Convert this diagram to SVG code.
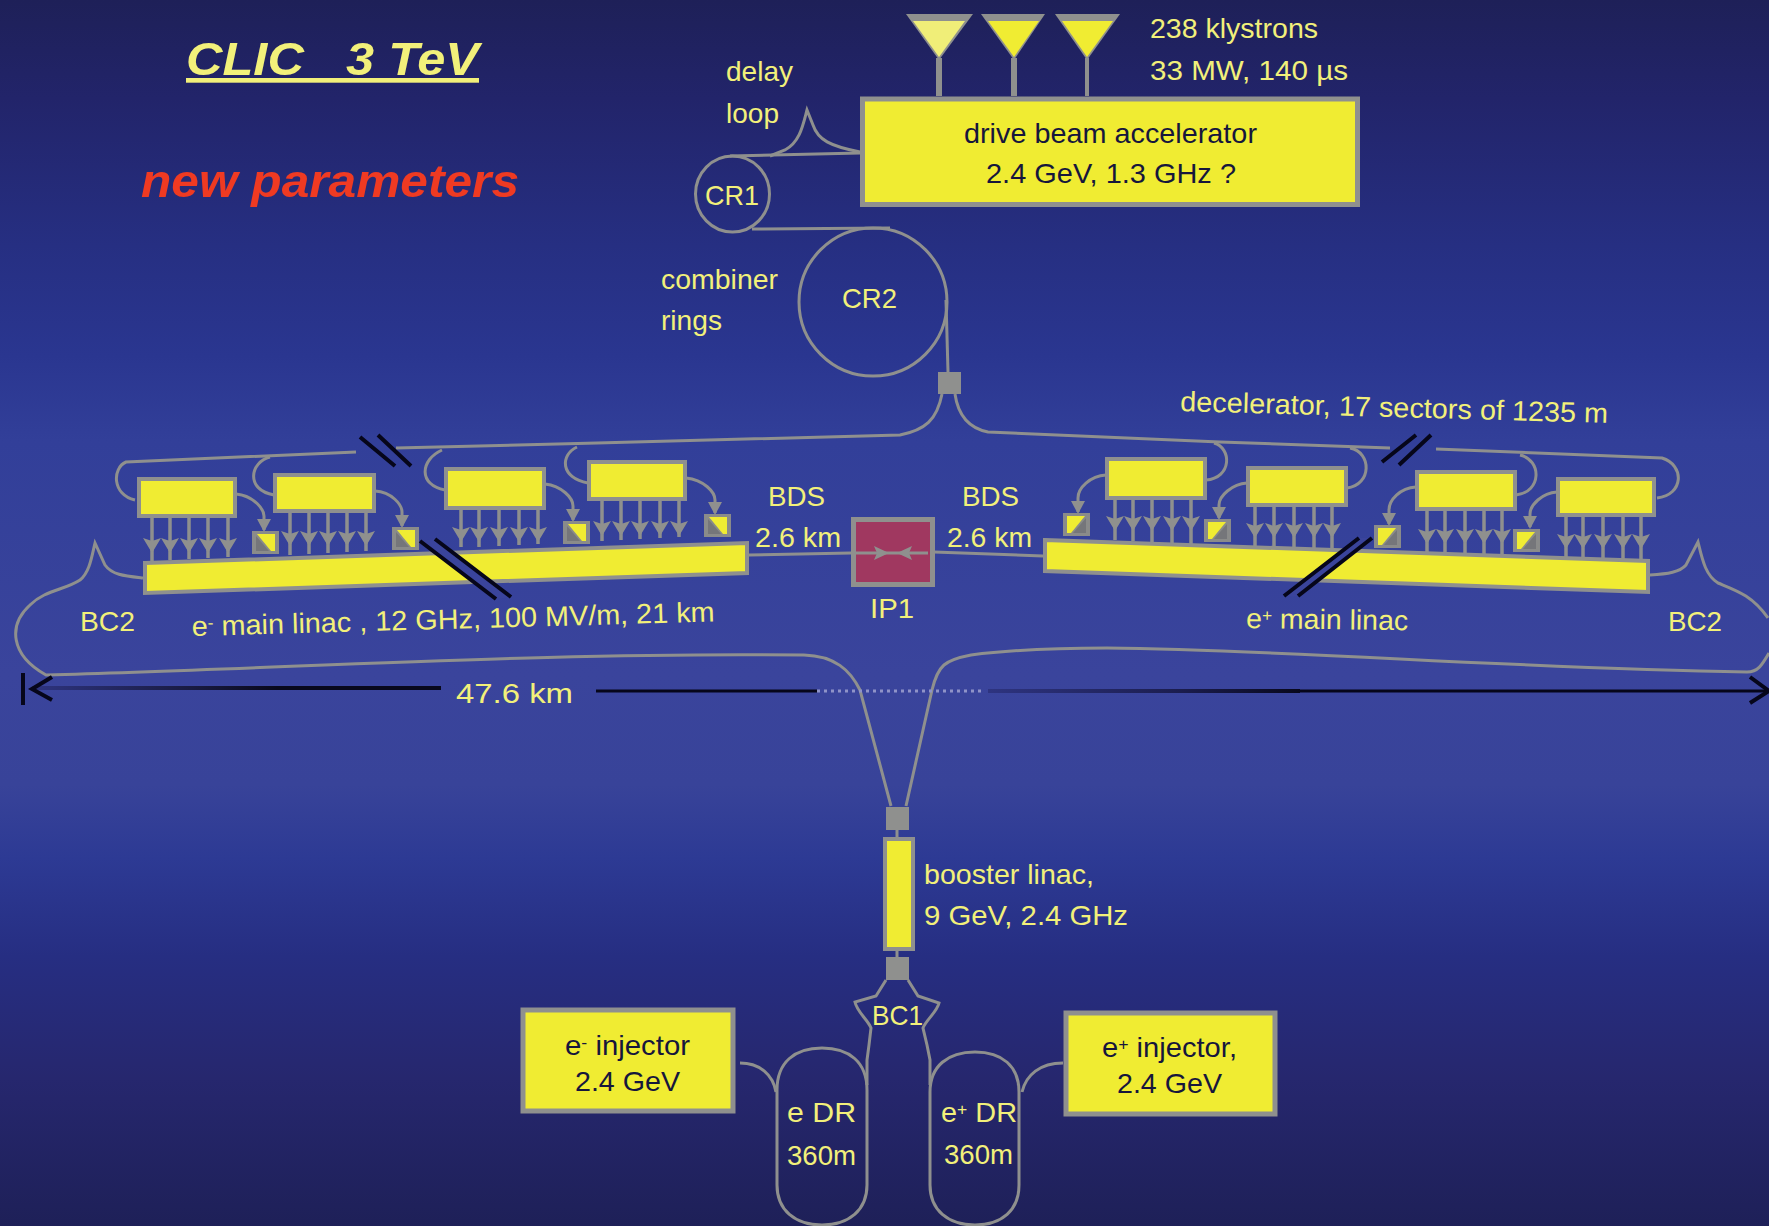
<svg xmlns="http://www.w3.org/2000/svg" xmlns:xlink="http://www.w3.org/1999/xlink" width="1769" height="1226" viewBox="0 0 1769 1226">
<defs>
<linearGradient id="bg" x1="0" y1="0" x2="0" y2="1">
<stop offset="0" stop-color="#1e2058"/><stop offset="0.08" stop-color="#22246a"/><stop offset="0.2" stop-color="#262f82"/><stop offset="0.29" stop-color="#2a3690"/><stop offset="0.36" stop-color="#323f99"/><stop offset="0.55" stop-color="#3a449c"/><stop offset="0.64" stop-color="#384399"/><stop offset="0.7" stop-color="#2d3a94"/><stop offset="0.78" stop-color="#262e82"/><stop offset="0.88" stop-color="#26276e"/><stop offset="1" stop-color="#1e2058"/>
</linearGradient>
<linearGradient id="dimL" gradientUnits="userSpaceOnUse" x1="32" y1="0" x2="441" y2="0"><stop offset="0" stop-color="#2e3480"/><stop offset="0.4" stop-color="#181a40"/><stop offset="0.6" stop-color="#08081c"/></linearGradient>
<linearGradient id="dimR" gradientUnits="userSpaceOnUse" x1="988" y1="0" x2="1300" y2="0"><stop offset="0" stop-color="#2e3480"/><stop offset="0.6" stop-color="#1c1e50"/><stop offset="1" stop-color="#08081c"/></linearGradient>
<marker id="ah" markerUnits="userSpaceOnUse" markerWidth="20" markerHeight="20" refX="8" refY="10" orient="auto" viewBox="0 0 20 20"><path d="M0,1 L15,10 L0,19 L3,10 Z" fill="#8f908e"/></marker>
<g id="sqA"><rect width="27" height="23" fill="#8a8b8a"/><polygon points="5,3 23,3 23,20 19,20" fill="#f0ec32"/><polygon points="4,5 4,20 17,20" fill="#75767a"/></g>
<g id="sqB"><rect width="27" height="23" fill="#8a8b8a"/><polygon points="4,3 22,3 8,20 4,20" fill="#f0ec32"/><polygon points="23,5 23,20 10,20" fill="#75767a"/></g>
</defs>
<style>
text{font-family:"Liberation Sans",Arial,sans-serif;font-size:28px;fill:#f2f07a}
.d{fill:#16163c}
.t{fill:none;stroke:#8f908e;stroke-width:3}
.a{fill:none;stroke:#8f908e;stroke-width:3.500;marker-mid:url(#ah)}
.b{fill:#f0ec32;stroke:#8f908e;stroke-width:4}
.k{fill:none;stroke:#06061a;stroke-width:4}
.j{fill:#8f908e}
.s{font-size:17px}
</style>
<rect width="1769" height="1226" fill="url(#bg)"/>

<g id="connectors">
<path class="t" d="M860,152 C830,146 818,140 813,125 L807,110 C803,125 800,142 785,150 L770,156"/>
<path class="t" d="M860,153 L730,156"/>
<path class="t" d="M752,229 L890,228"/>
<path class="t" d="M946,300 L948,372"/>
<path class="t" d="M942,394 C937,420 925,430 900,435 L597,443 L396,448"/>
<path class="t" d="M356,452 L126,462 C112,468 112,495 135,500"/>
<path class="t" d="M270,457 C250,462 245,490 274,495"/>
<path class="t" d="M442,450 C420,460 418,485 445,490"/>
<path class="t" d="M577,447 C560,455 560,478 588,483"/>
<path class="t" d="M236,494 C255,496 264,510 264,516 L264,530"/>
<path class="t" d="M375,491 C392,492 402,505 402,512 L402,526"/>
<path class="t" d="M545,484 C562,486 573,498 573,506 L573,520"/>
<path class="t" d="M686,478 C704,480 715,492 715,500 L715,513"/>
<path class="t" d="M955,394 C958,415 968,428 988,432 L1220,442 L1390,448"/>
<path class="t" d="M1436,449 L1662,458 C1685,465 1684,495 1657,498"/>
<path class="t" d="M1214,443 C1232,448 1232,478 1206,480"/>
<path class="t" d="M1350,448 C1372,452 1372,485 1347,488"/>
<path class="t" d="M1520,455 C1542,460 1542,492 1516,495"/>
<path class="t" d="M1106,475 C1090,476 1078,488 1078,498 L1078,512"/>
<path class="t" d="M1247,483 C1232,484 1219,496 1219,505 L1219,518"/>
<path class="t" d="M1416,487 C1400,488 1389,500 1389,510 L1389,524"/>
<path class="t" d="M1557,492 C1542,493 1530,505 1530,514 L1530,527"/>
<polygon class="j" points="257,519 271,519 264,532"/><polygon class="j" points="395,515 409,515 402,528"/><polygon class="j" points="566,509 580,509 573,522"/><polygon class="j" points="708,502 722,502 715,515"/>
<polygon class="j" points="1071,501 1085,501 1078,514"/><polygon class="j" points="1212,507 1226,507 1219,520"/><polygon class="j" points="1382,513 1396,513 1389,526"/><polygon class="j" points="1523,516 1537,516 1530,529"/>
<path class="a" d="M152,517 L152,546 L152,561"/><path class="a" d="M170,517 L170,546 L170,560"/><path class="a" d="M189,517 L189,546 L189,559"/><path class="a" d="M208,517 L208,546 L208,558"/><path class="a" d="M228,517 L228,546 L228,557"/>
<path class="a" d="M290,512 L290,539 L290,555"/><path class="a" d="M309,512 L309,539 L309,554"/><path class="a" d="M328,512 L328,539 L328,553"/><path class="a" d="M347,512 L347,539 L347,552"/><path class="a" d="M366,512 L366,539 L366,551"/>
<path class="a" d="M461,509 L461,535 L461,547"/><path class="a" d="M479,509 L479,535 L479,547"/><path class="a" d="M499,509 L499,535 L499,546"/><path class="a" d="M519,509 L519,535 L519,545"/><path class="a" d="M538,509 L538,535 L538,544"/>
<path class="a" d="M602,500 L602,529 L602,541"/><path class="a" d="M621,500 L621,529 L621,540"/><path class="a" d="M640,500 L640,529 L640,539"/><path class="a" d="M660,500 L660,529 L660,538"/><path class="a" d="M679,500 L679,529 L679,537"/>
<path class="a" d="M1115,499 L1115,524 L1115,540"/><path class="a" d="M1133,499 L1133,524 L1133,541"/><path class="a" d="M1152,499 L1152,524 L1152,542"/><path class="a" d="M1172,499 L1172,524 L1172,543"/><path class="a" d="M1191,499 L1191,524 L1191,544"/>
<path class="a" d="M1255,505 L1255,531 L1255,546"/><path class="a" d="M1274,505 L1274,531 L1274,547"/><path class="a" d="M1294,505 L1294,531 L1294,548"/><path class="a" d="M1314,505 L1314,531 L1314,549"/><path class="a" d="M1332,505 L1332,531 L1332,550"/>
<path class="a" d="M1427,510 L1427,537 L1427,552"/><path class="a" d="M1445,510 L1445,537 L1445,553"/><path class="a" d="M1465,510 L1465,537 L1465,554"/><path class="a" d="M1484,510 L1484,537 L1484,555"/><path class="a" d="M1502,510 L1502,537 L1502,556"/>
<path class="a" d="M1566,515 L1566,542 L1566,557"/><path class="a" d="M1583,515 L1583,542 L1583,558"/><path class="a" d="M1603,515 L1603,542 L1603,559"/><path class="a" d="M1623,515 L1623,542 L1623,560"/><path class="a" d="M1641,515 L1641,542 L1641,561"/>
<path class="t" d="M749,555 L851,553"/>
<path class="t" d="M934,552 L1043,556"/>
<path class="t" d="M143,578 C125,576 112,575 105,565 L95,543 C92,555 90,572 80,580 C65,590 45,590 30,605 C8,625 10,655 46,675 C300,668 550,652 804,655 C835,656 850,670 860,690 L891,806"/>
<path class="t" d="M1650,575 C1668,574 1680,572 1686,565 L1698,542 C1702,558 1705,575 1718,583 C1735,590 1752,595 1768,618"/>
<path class="t" d="M1769,653 C1762,665 1758,672 1747,672 C1500,668 1300,650 1107,648 C1060,648 1010,650 971,655 C945,660 938,665 932,690 L906,806"/>
<path class="t" d="M897,830 L897,838"/><path class="t" d="M897,950 L897,958"/>
<path class="t" d="M886,980 L876,996 L855,1002 C857,1012 868,1020 871,1028 L869,1045 L867,1060 L867,1085"/>
<path class="t" d="M908,980 L918,996 L939,1003 C937,1012 926,1020 923,1028 L927,1045 L930,1060 L930,1085"/>
<path class="t" d="M740,1063 C760,1063 773,1075 776,1092"/>
<path class="t" d="M1063,1063 C1040,1063 1026,1075 1022,1092"/>
<path d="M32,688 L441,688" fill="none" stroke="url(#dimL)" stroke-width="4"/>
<path d="M596,691 L817,691" fill="none" stroke="#06061a" stroke-width="3"/>
<path d="M817,691 L985,691" fill="none" stroke="#8f93c8" stroke-width="3" stroke-dasharray="3 4"/>
<path d="M988,691 L1300,691" fill="none" stroke="url(#dimR)" stroke-width="4"/>
<path d="M1300,691 L1769,691" fill="none" stroke="#06061a" stroke-width="3"/>
<path class="k" d="M23,673 L23,705"/>
<path class="k" d="M52,677 L32,689 L52,700"/>
<path class="k" d="M1750,677 L1769,691 L1750,703"/>
</g>

<g id="title"><text x="186" y="75" font-weight="bold" font-style="italic" text-decoration="underline" style="font-size:47px;white-space:pre" textLength="293" lengthAdjust="spacingAndGlyphs" xml:space="preserve">CLIC   3 TeV</text></g>
<g id="subtitle"><text x="141" y="197" font-weight="bold" font-style="italic" style="font-size:47px;fill:#ef3a22" textLength="378" lengthAdjust="spacingAndGlyphs">new parameters</text></g>

<g id="klystrons">
<line x1="939" y1="58" x2="939" y2="96" stroke="#8f908e" stroke-width="6"/>
<line x1="1014" y1="58" x2="1014" y2="96" stroke="#8f908e" stroke-width="6"/>
<line x1="1087" y1="58" x2="1087" y2="96" stroke="#8f908e" stroke-width="4"/>
<polygon points="906,14 973,14 939,60" fill="#8f908e"/><polygon points="913,21 965,21 939,57" fill="#f0ee78"/>
<polygon points="981,14 1045,14 1014,60" fill="#8f908e"/><polygon points="988,21 1039,21 1014,57" fill="#f0ec32"/>
<polygon points="1055,14 1120,14 1087,60" fill="#8f908e"/><polygon points="1062,21 1113,21 1087,57" fill="#f0ec32"/>
<text x="1150" y="38" textLength="168" lengthAdjust="spacingAndGlyphs">238 klystrons</text>
<text x="1150" y="80" textLength="198" lengthAdjust="spacingAndGlyphs">33 MW, 140 µs</text>
</g>
<g id="drive-beam-accelerator">
<rect x="862.500" y="99" width="495" height="105.500" fill="#f0ec32" stroke="#8f908e" stroke-width="5"/>
<text class="d" x="964" y="143" textLength="293" lengthAdjust="spacingAndGlyphs">drive beam accelerator</text>
<text class="d" x="986" y="183" textLength="250" lengthAdjust="spacingAndGlyphs">2.4 GeV, 1.3 GHz ?</text>
</g>
<g id="delay-loop-label"><text x="726" y="81" textLength="67" lengthAdjust="spacingAndGlyphs">delay</text><text x="726" y="123" textLength="53" lengthAdjust="spacingAndGlyphs">loop</text></g>
<g id="cr1"><ellipse class="t" cx="732.500" cy="194" rx="37" ry="38"/><text x="705" y="205" textLength="54" lengthAdjust="spacingAndGlyphs">CR1</text></g>
<g id="cr2"><ellipse class="t" cx="873" cy="302" rx="74" ry="74"/><text x="842" y="308" textLength="55" lengthAdjust="spacingAndGlyphs">CR2</text></g>
<g id="combiner-label"><text x="661" y="289" textLength="117" lengthAdjust="spacingAndGlyphs">combiner</text><text x="661" y="330" textLength="61" lengthAdjust="spacingAndGlyphs">rings</text></g>
<g id="junction-top"><rect class="j" x="938" y="372" width="23" height="22"/></g>
<g id="decelerator-label"><text x="1180" y="411" transform="rotate(1.6 1180 411)" textLength="428" lengthAdjust="spacingAndGlyphs">decelerator, 17 sectors of 1235 m</text></g>

<g id="left-decelerators">
<rect class="b" x="139" y="479" width="96" height="37"/>
<rect class="b" x="275" y="475" width="99" height="36"/>
<rect class="b" x="446" y="469" width="98" height="39"/>
<rect class="b" x="589" y="462" width="96" height="37"/>
</g>
<g id="left-squares">
<use href="#sqA" xlink:href="#sqA" x="252" y="531"/>
<use href="#sqA" xlink:href="#sqA" x="392" y="527"/>
<use href="#sqA" xlink:href="#sqA" x="563" y="521"/>
<use href="#sqA" xlink:href="#sqA" x="704" y="514"/>
</g>
<g id="left-linac"><polygon class="b" points="145,563 747,543 747,573 145,593"/>
<text x="192" y="636" transform="rotate(-1.6 192 636)" textLength="523" lengthAdjust="spacingAndGlyphs">e<tspan class="s" dy="-7">-</tspan><tspan dy="7"> main linac , 12 GHz, 100 MV/m, 21 km</tspan></text></g>
<g id="left-breaks">
<polygon points="420,541 435,539 511,597 496,599" fill="#3a449c"/>
<path class="k" d="M360,437 L395,466 M378,435 L411,466 M420,541 L496,599 M435,539 L511,597"/>
</g>

<g id="right-decelerators">
<rect class="b" x="1107" y="459" width="98" height="39"/>
<rect class="b" x="1248" y="468" width="98" height="37"/>
<rect class="b" x="1417" y="472" width="98" height="37"/>
<rect class="b" x="1558" y="479" width="96" height="36"/>
</g>
<g id="right-squares">
<use href="#sqB" xlink:href="#sqB" x="1063" y="513"/>
<use href="#sqB" xlink:href="#sqB" x="1204" y="519"/>
<use href="#sqB" xlink:href="#sqB" x="1374" y="525"/>
<use href="#sqB" xlink:href="#sqB" x="1513" y="529"/>
</g>
<g id="right-linac"><polygon class="b" points="1045,540 1648,561 1648,592 1045,571"/>
<text x="1246" y="628" transform="rotate(0.8 1246 628)" textLength="162" lengthAdjust="spacingAndGlyphs">e<tspan class="s" dy="-7">+</tspan><tspan dy="7"> main linac</tspan></text></g>
<g id="right-breaks">
<polygon points="1284,596 1298,596 1372,538 1359,538" fill="#3a449c"/>
<path class="k" d="M1382,462 L1416,435 M1399,465 L1431,435 M1284,596 L1359,538 M1298,596 L1372,538"/>
</g>

<g id="ip1">
<rect x="853.500" y="519.500" width="79" height="65" fill="#a03860" stroke="#8f908e" stroke-width="5"/>
<path d="M856,553 L928,553" stroke="#8f908e" stroke-width="3" fill="none"/>
<polygon class="j" points="874,546 889,553 874,560 877,553"/><polygon class="j" points="912,546 897,553 912,560 909,553"/>
<text x="870" y="618" textLength="44" lengthAdjust="spacingAndGlyphs">IP1</text>
</g>
<g id="bds-left"><text x="768" y="506" textLength="57" lengthAdjust="spacingAndGlyphs">BDS</text><text x="755" y="547" textLength="86" lengthAdjust="spacingAndGlyphs">2.6 km</text></g>
<g id="bds-right"><text x="962" y="506" textLength="57" lengthAdjust="spacingAndGlyphs">BDS</text><text x="947" y="547" textLength="85" lengthAdjust="spacingAndGlyphs">2.6 km</text></g>
<g id="bc2-left"><text x="80" y="631" textLength="55" lengthAdjust="spacingAndGlyphs">BC2</text></g>
<g id="bc2-right"><text x="1668" y="631" textLength="54" lengthAdjust="spacingAndGlyphs">BC2</text></g>
<g id="length-label"><text x="456" y="703" textLength="117" lengthAdjust="spacingAndGlyphs">47.6 km</text></g>

<g id="junction-mid"><rect class="j" x="886" y="807" width="23" height="23"/></g>
<g id="booster-linac">
<rect x="885" y="839" width="28" height="110" fill="#f0ec32" stroke="#8f908e" stroke-width="4"/>
<text x="924" y="884" textLength="170" lengthAdjust="spacingAndGlyphs">booster linac,</text>
<text x="924" y="925" textLength="204" lengthAdjust="spacingAndGlyphs">9 GeV, 2.4 GHz</text>
</g>
<g id="junction-low"><rect class="j" x="886" y="957" width="23" height="23"/></g>
<g id="bc1"><text x="872" y="1025" textLength="51" lengthAdjust="spacingAndGlyphs">BC1</text></g>
<g id="e-injector">
<rect x="523" y="1010" width="210" height="101" fill="#f0ec32" stroke="#8f908e" stroke-width="5"/>
<text class="d" x="565" y="1055" textLength="125" lengthAdjust="spacingAndGlyphs">e<tspan class="s" dy="-7">-</tspan><tspan dy="7"> injector</tspan></text>
<text class="d" x="575" y="1091" textLength="105" lengthAdjust="spacingAndGlyphs">2.4 GeV</text>
</g>
<g id="p-injector">
<rect x="1066" y="1013" width="209" height="101" fill="#f0ec32" stroke="#8f908e" stroke-width="5"/>
<text class="d" x="1102" y="1057" textLength="135" lengthAdjust="spacingAndGlyphs">e<tspan class="s" dy="-7">+</tspan><tspan dy="7"> injector,</tspan></text>
<text class="d" x="1117" y="1093" textLength="105" lengthAdjust="spacingAndGlyphs">2.4 GeV</text>
</g>
<g id="e-dr">
<path class="t" d="M777,1090 C777,1062 795,1048 822,1048 C849,1048 867,1062 867,1090 L867,1185 C867,1210 849,1225 822,1225 C795,1225 777,1210 777,1185 Z"/>
<text x="787" y="1122" textLength="69" lengthAdjust="spacingAndGlyphs">e  DR</text>
<text x="787" y="1165" textLength="69" lengthAdjust="spacingAndGlyphs">360m</text>
</g>
<g id="p-dr">
<path class="t" d="M930,1092 C930,1066 948,1052 975,1052 C1002,1052 1019,1066 1019,1092 L1019,1185 C1019,1210 1002,1225 975,1225 C948,1225 930,1210 930,1185 Z"/>
<text x="941" y="1122" textLength="76" lengthAdjust="spacingAndGlyphs">e<tspan class="s" dy="-7">+</tspan><tspan dy="7"> DR</tspan></text>
<text x="944" y="1164" textLength="69" lengthAdjust="spacingAndGlyphs">360m</text>
</g>
</svg>
